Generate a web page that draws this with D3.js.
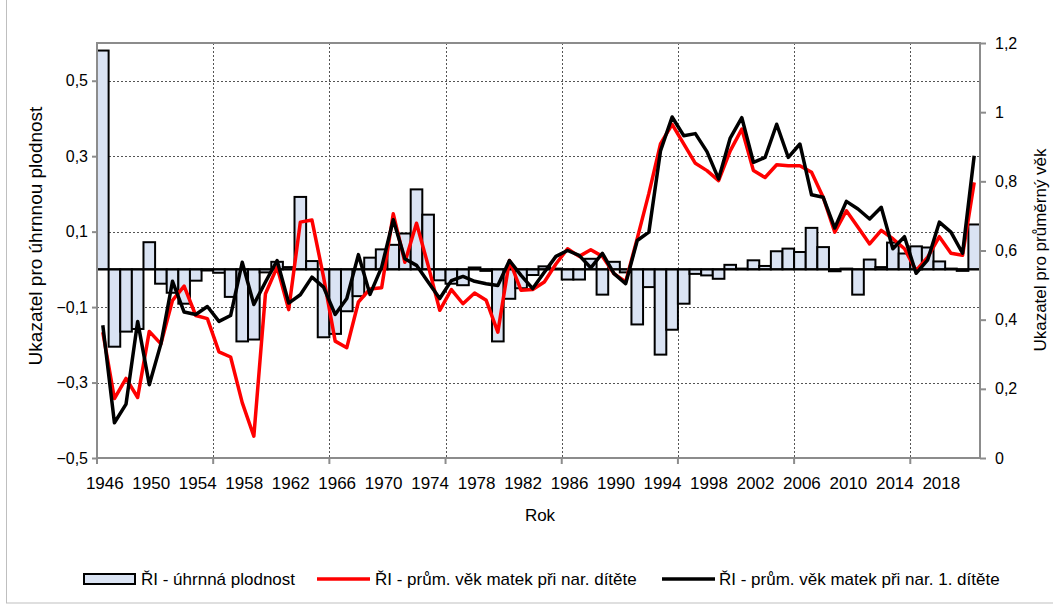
<!DOCTYPE html>
<html lang="cs">
<head>
<meta charset="UTF-8">
<title>Ukazatele plodnosti</title>
<style>
  body { margin: 0; background: #fff; }
  svg text { font-family: "Liberation Sans", Arial, sans-serif; fill: #000; }
  .grid line { stroke: #555; stroke-width: 1; stroke-dasharray: 2,2; }
</style>
</head>
<body>
<div id="chart"></div>
<script src="https://d3js.org/d3.v7.min.js"></script>
<script>
// categories
var years = [1946,1947,1948,1949,1950,1951,1952,1953,1954,1955,1956,1957,1958,1959,
  1960,1961,1962,1963,1964,1965,1966,1967,1968,1969,1970,1971,1972,1973,1974,1975,
  1976,1977,1978,1979,1980,1981,1982,1983,1984,1985,1986,1987,1988,1989,1990,1991,
  1992,1993,1994,1995,1996,1997,1998,1999,2000,2001,2002,2003,2004,2005,2006,2007,
  2008,2009,2010,2011,2012,2013,2014,2015,2016,2017,2018,2019,2020,2021];

// RI - uhrnna plodnost (left axis, bars)
var plodnost = [0.58,-0.205,-0.165,-0.158,0.072,-0.038,-0.062,-0.091,-0.03,-0.003,
  -0.009,-0.073,-0.191,-0.186,-0.008,0.02,0.006,0.192,0.022,-0.18,-0.171,-0.111,-0.071,
  0.031,0.053,0.065,0.095,0.212,0.145,-0.029,-0.038,-0.042,0.005,-0.004,-0.191,-0.078,
  -0.05,-0.015,0.008,0.002,-0.027,-0.027,0.028,-0.067,0.02,-0.008,-0.146,-0.047,-0.226,
  -0.16,-0.091,-0.012,-0.016,-0.025,0.012,0.002,0.024,0.009,0.048,0.055,0.046,0.11,
  0.059,-0.005,0.002,-0.067,0.026,0.006,0.071,0.042,0.061,0.058,0.021,0.002,-0.004,0.119];

// RI - prum. vek matek pri nar. ditete (right axis)
var vekVse = [0.364,0.172,0.23,0.175,0.366,0.33,0.456,0.497,0.412,0.403,0.307,0.292,
  0.16,0.063,0.475,0.552,0.429,0.682,0.688,0.523,0.338,0.319,0.451,0.489,0.492,0.706,
  0.566,0.679,0.557,0.427,0.487,0.446,0.477,0.456,0.364,0.571,0.485,0.487,0.509,0.561,
  0.605,0.583,0.602,0.583,0.533,0.509,0.635,0.765,0.908,0.965,0.908,0.852,0.831,0.802,
  0.888,0.951,0.831,0.811,0.848,0.845,0.845,0.826,0.754,0.653,0.715,0.667,0.619,0.658,
  0.634,0.605,0.542,0.581,0.64,0.592,0.586,0.797];

// RI - prum. vek matek pri nar. 1. ditete (right axis)
var vekPrvni = [0.384,0.102,0.156,0.395,0.212,0.33,0.511,0.422,0.415,0.438,0.395,0.412,
  0.566,0.444,0.509,0.571,0.448,0.472,0.523,0.494,0.415,0.461,0.588,0.473,0.552,0.689,
  0.576,0.557,0.509,0.461,0.513,0.525,0.511,0.504,0.499,0.571,0.528,0.49,0.537,0.583,
  0.6,0.586,0.55,0.592,0.533,0.504,0.629,0.653,0.888,0.986,0.932,0.938,0.886,0.807,
  0.925,0.984,0.855,0.869,0.965,0.869,0.908,0.761,0.754,0.665,0.742,0.72,0.691,0.725,
  0.605,0.64,0.534,0.573,0.682,0.653,0.592,0.874];

// tick values
var leftTicks = [-0.5,-0.3,-0.1,0.1,0.3,0.5];
var rightTicks = [0,0.2,0.4,0.6,0.8,1,1.2];
var yearLabels = [1946,1950,1954,1958,1962,1966,1970,1974,1978,1982,1986,1990,1994,
  1998,2002,2006,2010,2014,2018];

var W = 1053, H = 609;
var pLeft = 97, pRight = 980, pTop = 43, pBottom = 458;

var cs = d3.formatLocale({decimal: ",", thousands: " ", grouping: [3], currency: ["", ""]});
var fmt = function (v) { return cs.format("~g")(+v.toFixed(2)); };

var svg = d3.select("#chart").append("svg")
  .attr("width", W).attr("height", H);

// chart area frame
svg.append("rect")
  .attr("x", 6.5).attr("y", -2).attr("width", W + 4).attr("height", 605)
  .attr("fill", "none").attr("stroke", "#bfbfbf").attr("stroke-width", 1);

var x = d3.scaleBand().domain(years).range([pLeft, pRight]).padding(0);
var yL = d3.scaleLinear().domain([-0.5, 0.6]).range([pBottom, pTop]);
var yR = d3.scaleLinear().domain([0, 1.2]).range([pBottom, pTop]);

// gridlines
var grid = svg.append("g").attr("class", "grid");
grid.selectAll(".h").data(leftTicks.filter(function (d) { return d > -0.5; }))
  .enter().append("line")
  .attr("x1", pLeft).attr("x2", pRight)
  .attr("y1", function (d) { return Math.round(yL(d)) + 0.5; })
  .attr("y2", function (d) { return Math.round(yL(d)) + 0.5; });

var decadeIdx = [10, 20, 30, 40, 50, 60, 70];
grid.selectAll(".v").data(decadeIdx).enter().append("line")
  .attr("x1", function (i) { return Math.round(x(years[i])) + 0.5; })
  .attr("x2", function (i) { return Math.round(x(years[i])) + 0.5; })
  .attr("y1", pTop).attr("y2", pBottom);

// bars
svg.append("g").selectAll("rect").data(years).enter().append("rect")
  .attr("x", function (d) { return x(d); })
  .attr("width", x.bandwidth())
  .attr("y", function (d, i) { return yL(Math.max(0, plodnost[i])); })
  .attr("height", function (d, i) { return Math.abs(yL(plodnost[i]) - yL(0)); })
  .attr("fill", "#dae3f3")
  .attr("stroke", "#000")
  .attr("stroke-width", 2);

// zero line
svg.append("line")
  .attr("x1", pLeft).attr("x2", pRight)
  .attr("y1", yL(0)).attr("y2", yL(0))
  .attr("stroke", "#000").attr("stroke-width", 2);

// plot frame / axis lines
var axisCol = "#8c8c8c";
svg.append("rect")
  .attr("x", pLeft).attr("y", pTop).attr("width", pRight - pLeft).attr("height", pBottom - pTop)
  .attr("fill", "none").attr("stroke", axisCol).attr("stroke-width", 2);

// bottom ticks
svg.append("g").selectAll("line").data([0].concat(decadeIdx)).enter().append("line")
  .attr("x1", function (i) { return x(years[i]); })
  .attr("x2", function (i) { return x(years[i]); })
  .attr("y1", pBottom).attr("y2", pBottom + 6)
  .attr("stroke", axisCol).attr("stroke-width", 2);

// left axis
var gL = svg.append("g").attr("transform", "translate(" + pLeft + ",0)")
  .call(d3.axisLeft(yL).tickValues(leftTicks).tickSize(5).tickPadding(4).tickFormat(fmt));
gL.select(".domain").remove();
gL.selectAll(".tick line").attr("stroke", axisCol).attr("stroke-width", 2);
gL.selectAll(".tick text").style("font-size", "16px").style("font-family", "Liberation Sans, Arial, sans-serif");

// right axis
var gR = svg.append("g").attr("transform", "translate(" + pRight + ",0)")
  .call(d3.axisRight(yR).tickValues(rightTicks).tickSize(6).tickPadding(9).tickFormat(fmt));
gR.select(".domain").remove();
gR.selectAll(".tick line").attr("stroke", axisCol).attr("stroke-width", 2);
gR.selectAll(".tick text").style("font-size", "16px").style("font-family", "Liberation Sans, Arial, sans-serif");

// year labels
svg.append("g").selectAll("text").data(yearLabels).enter().append("text")
  .attr("x", function (d) { return x(d) + x.bandwidth() / 2 + 2; })
  .attr("y", 489)
  .attr("text-anchor", "middle")
  .style("font-size", "17px")
  .text(function (d) { return d; });

// lines
var lineR = d3.line()
  .x(function (d, i) { return x(years[i]) + x.bandwidth() / 2; })
  .y(function (d) { return yR(d); });

svg.append("path").datum(vekVse)
  .attr("d", lineR).attr("fill", "none")
  .attr("stroke", "#ff0000").attr("stroke-width", 3.5).attr("stroke-linejoin", "round");
svg.append("path").datum(vekPrvni)
  .attr("d", lineR).attr("fill", "none")
  .attr("stroke", "#000").attr("stroke-width", 3.5).attr("stroke-linejoin", "round");

// axis titles
svg.append("text")
  .attr("transform", "translate(42,236) rotate(-90)")
  .attr("text-anchor", "middle")
  .style("font-size", "19px")
  .text("Ukazatel pro úhrnnou plodnost");
svg.append("text")
  .attr("transform", "translate(1046,250) rotate(-90)")
  .attr("text-anchor", "middle")
  .style("font-size", "17px")
  .text("Ukazatel pro průměrný věk");
svg.append("text")
  .attr("x", 540).attr("y", 521)
  .attr("text-anchor", "middle")
  .style("font-size", "17px")
  .text("Rok");

// legend
var lg = svg.append("g");
lg.append("rect").attr("x", 84).attr("y", 574).attr("width", 51).attr("height", 10)
  .attr("fill", "#dae3f3").attr("stroke", "#000").attr("stroke-width", 2);
lg.append("text").attr("x", 141).attr("y", 585).style("font-size", "17px")
  .text("ŘI - úhrnná plodnost");
lg.append("line").attr("x1", 317).attr("x2", 370).attr("y1", 579).attr("y2", 579)
  .attr("stroke", "#ff0000").attr("stroke-width", 3.5);
lg.append("text").attr("x", 375).attr("y", 585).style("font-size", "17px")
  .text("ŘI - prům. věk matek při nar. dítěte");
lg.append("line").attr("x1", 662).attr("x2", 715).attr("y1", 579).attr("y2", 579)
  .attr("stroke", "#000").attr("stroke-width", 3.5);
lg.append("text").attr("x", 719).attr("y", 585).style("font-size", "17px")
  .text("ŘI - prům. věk matek při nar. 1. dítěte");
</script>
</body>
</html>
